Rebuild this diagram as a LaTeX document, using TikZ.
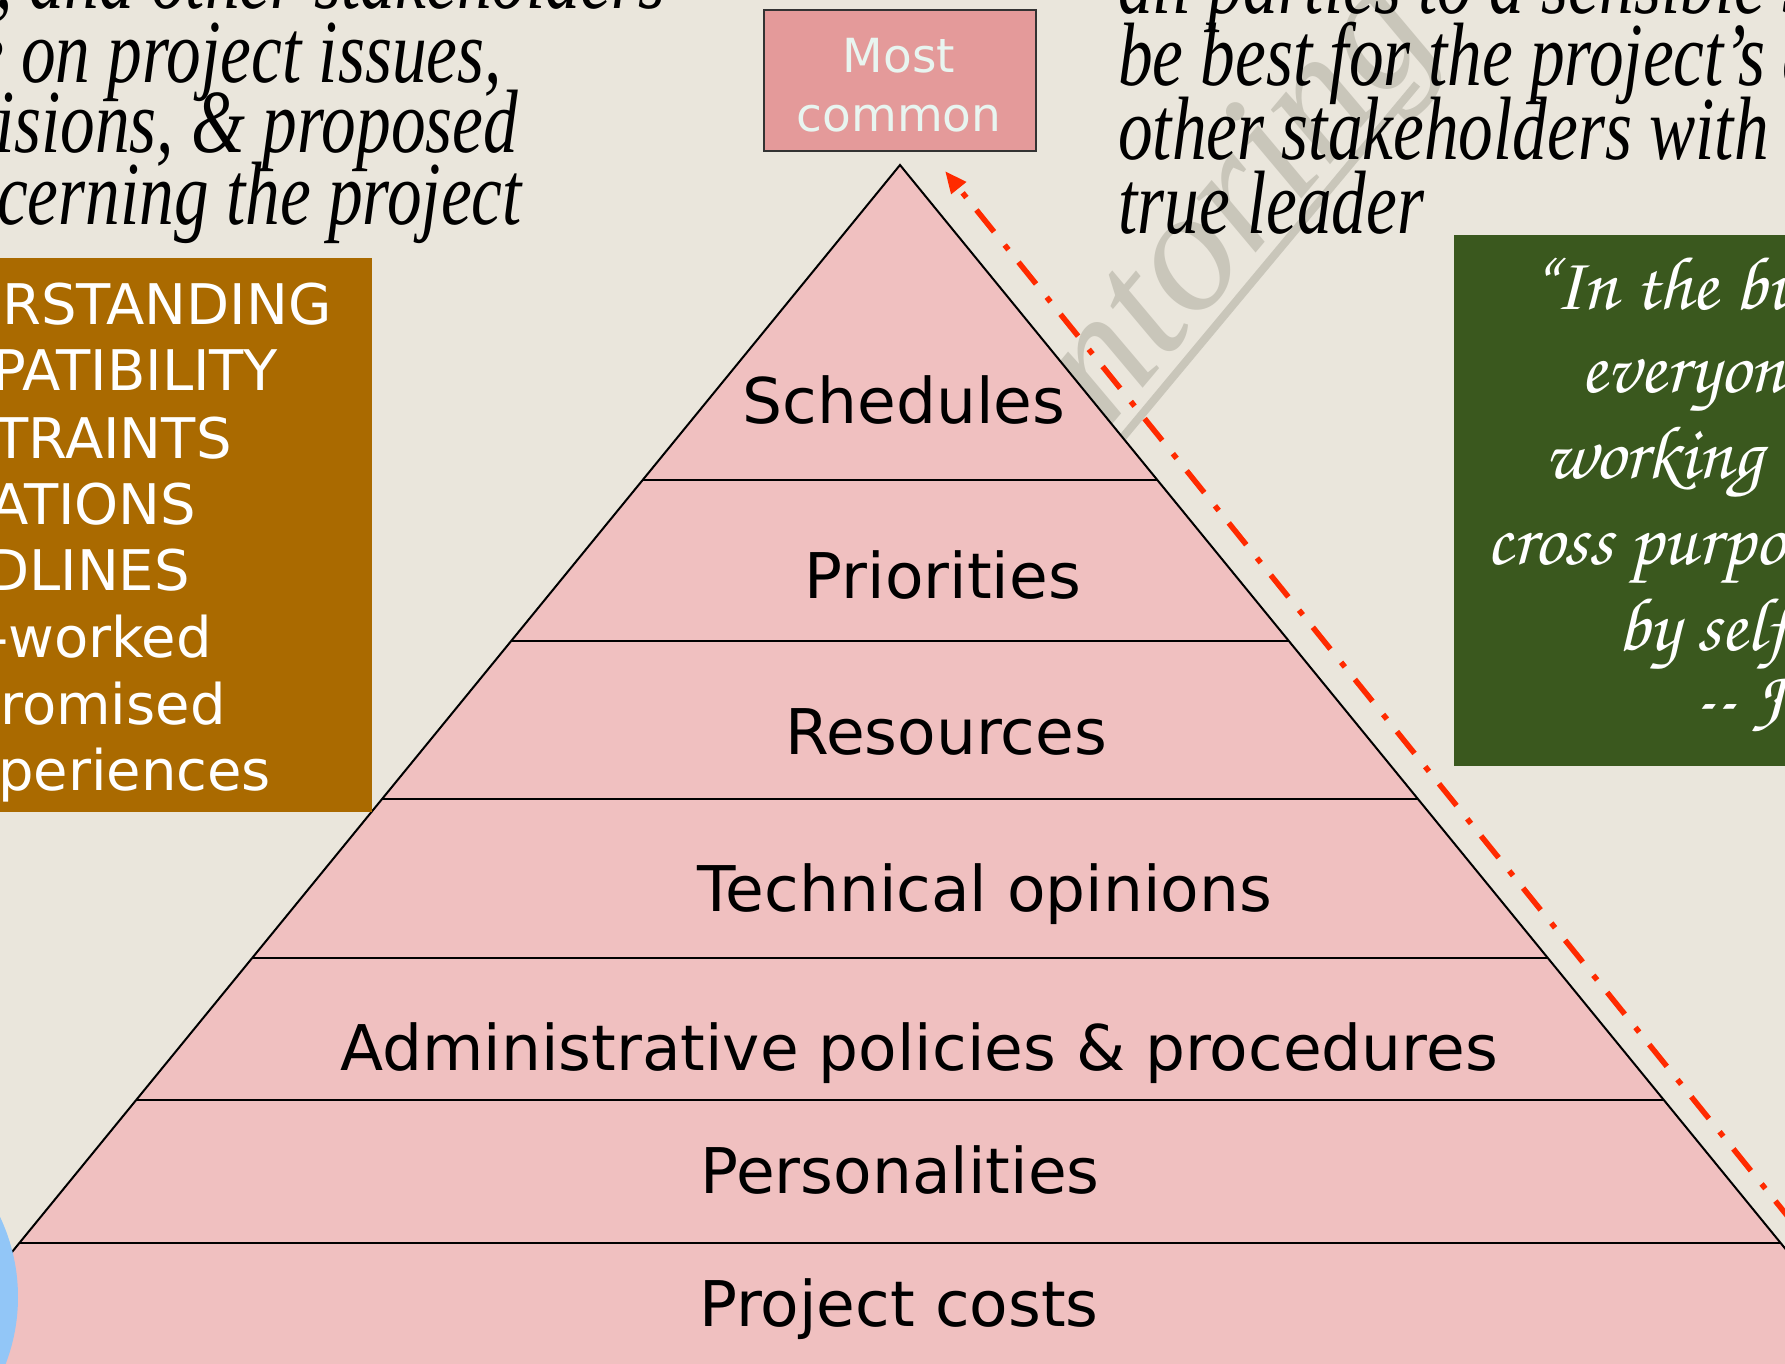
\documentclass[tikz,border=0pt]{standalone}
\usepackage{fontspec}
\usetikzlibrary{arrows.meta}
\newfontfamily\gardfont{Liberation Serif}
\newfontfamily\slidesans{DejaVu Sans}
\newfontfamily\chorusfont{TeX Gyre Chorus}
\newcommand\condensed[1]{\scalebox{0.77}[1]{#1}}
\definecolor{paper}{HTML}{EAE6DC}
\definecolor{layerpink}{HTML}{F0C0C0}
\definecolor{tagpink}{HTML}{E49A9A}
\definecolor{tagtext}{HTML}{E8F5F0}
\definecolor{ochre}{HTML}{AA6A00}
\definecolor{moss}{HTML}{3A581E}
\definecolor{cuered}{HTML}{FF2A00}
\definecolor{sky}{HTML}{92C6F7}
\definecolor{stamp}{HTML}{C9C6BA}
\begin{document}
\begin{tikzpicture}[x=1pt,y=-1pt,
  prose/.style={font=\gardfont\itshape\fontsize{90}{90}\selectfont, text=black, anchor=base west, inner sep=0},
  tiertext/.style={font=\slidesans\fontsize{63}{63}\selectfont, text=black, anchor=base, inner sep=0},
  listtext/.style={font=\slidesans\fontsize{56}{56}\selectfont, text=white, anchor=base west, inner sep=0},
  cursive/.style={font=\chorusfont\fontsize{76}{76}\selectfont, text=white, anchor=base west, inner sep=0},
  tagword/.style={font=\slidesans\fontsize{47}{47}\selectfont, text=tagtext, anchor=base, inner sep=0},
  stampword/.style={font=\gardfont\itshape\fontsize{175}{175}\selectfont, text=stamp, anchor=base west, inner sep=0},
  tierline/.style={draw=black, line width=2pt},
  cue/.style={draw=cuered, line width=5.5pt, dash pattern=on 28pt off 16pt on 6pt off 17pt,
              -{Triangle[length=22pt,width=18pt]}},
]
\useasboundingbox (0,0) rectangle (1785,1363);
\clip (0,0) rectangle (1785,1363);
\fill[paper] (0,0) rectangle (1785,1363);

% faint watermark behind everything
\coordinate (ulA) at (1123,437);
\coordinate (ulB) at (1417,84);
\draw[stamp, line width=8pt] (ulA) -- (ulB);
\node[stampword, rotate=50] (wm) at (1108,430) {ntoring};

% quotation fragments, top left
\node[prose] (la) at (-5,8) {\condensed{, and other stakeholders}};
\node[prose] (lb) at (-27,82) {\condensed{e on project issues,}};
\node[prose] (lc) at (-5,152) {\condensed{isions, \& proposed}};
\node[prose] (ld) at (-3,224) {\condensed{cerning the project}};

% quotation fragments, top right
\node[prose] (ra) at (1118,13) {\condensed{all parties to a sensible s}};
\node[prose] (rb) at (1118,85) {\condensed{be best for the project’s a}};
\node[prose] (rc) at (1118,159) {\condensed{other stakeholders with}};
\node[prose] (rd) at (1118,233) {\condensed{true leader}};

% pyramid
\coordinate (apex) at (900,165);
\coordinate (baseL) at (-162,1465);
\coordinate (baseR) at (1962,1465);
\fill[layerpink] (apex) -- (baseL) -- (baseR) -- cycle;
\begin{scope}
  \clip (apex) -- (baseL) -- (baseR) -- cycle;
  \foreach \yy in {480,641,799,958,1100,1243}
    \draw[tierline] (0,\yy) -- (1785,\yy);
\end{scope}
\draw[black, line width=2pt] (baseL) -- (apex) -- (baseR);

\node[tiertext] (t1) at (904,423)  {Schedules};
\node[tiertext] (t2) at (943,598)  {Priorities};
\node[tiertext] (t3) at (946,754)  {Resources};
\node[tiertext] (t4) at (985,911)  {Technical opinions};
\node[tiertext] (t5) at (919,1070) {Administrative policies \& procedures};
\node[tiertext] (t6) at (900,1193) {Personalities};
\node[tiertext] (t7) at (899,1326) {Project costs};

% label above the apex
\node[draw=black!80, line width=2pt, fill=tagpink, minimum width=272, minimum height=141,
      inner sep=0, anchor=north west] (mc) at (763,9) {};
\node[tagword] (mc1) at (899,72)  {Most};
\node[tagword] (mc2) at (899,131) {common};

% ochre list box
\node[fill=ochre, minimum width=372, minimum height=554, inner sep=0, anchor=north west] (ob) at (0,258) {};
\node[listtext] (o1) at (2,324)   {RSTANDING};
\node[listtext] (o2) at (-8,390)  {PATIBILITY};
\node[listtext] (o3) at (-6,458)  {TRAINTS};
\node[listtext] (o4) at (-10,524) {ATIONS};
\node[listtext] (o5) at (-14,590) {DLINES};
\node[listtext] (o6) at (-12,657) {-worked};
\node[listtext] (o7) at (0,724)   {romised};
\node[listtext] (o8) at (-2,790)  {periences};

% green quotation box
\node[fill=moss, minimum width=340, minimum height=531, inner sep=0, anchor=north west] (gb) at (1454,235) {};
\node[cursive] (g1) at (1528,309) {“In the bu};
\node[cursive] (g2) at (1580,392) {everyon};
\node[cursive] (g3) at (1544,478) {working};
\node[cursive] (g4) at (1486,564) {cross purpo};
\node[cursive] (g5) at (1617,650) {by self};
\node[cursive] (g6) at (1693,722) {-- J};

% blue disc at the lower left
\fill[sky] (-169,1297) circle (187);

% rising dash-dot arrow
\coordinate (arrtail) at (1835,1275);
\coordinate (arrhead) at (945,171);
\draw[cue] (arrtail) -- (arrhead);
\end{tikzpicture}
\end{document}
